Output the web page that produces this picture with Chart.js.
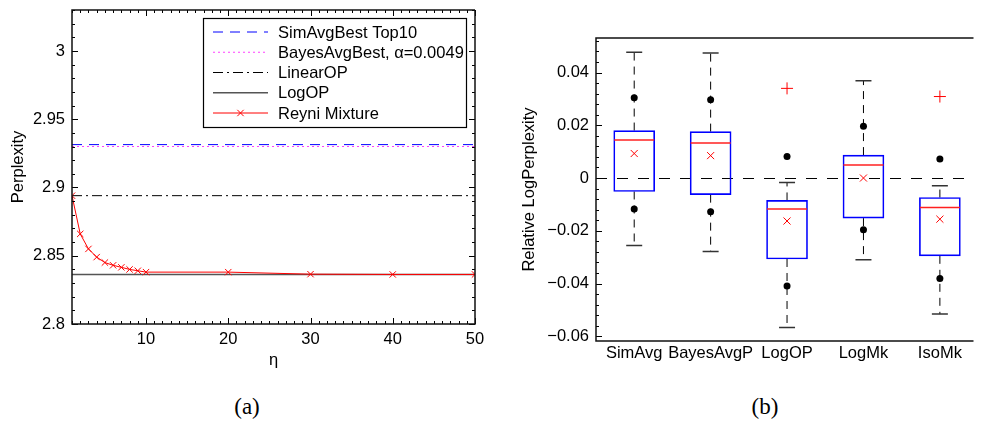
<!DOCTYPE html>
<html>
<head>
<meta charset="utf-8">
<script src="https://cdn.jsdelivr.net/npm/chart.js@4.4.1/dist/chart.umd.min.js"></script>
<style>
  body { margin: 0; background: #fff; width: 995px; height: 428px; overflow: hidden; position: relative; }
  canvas { position: absolute; top: 0; }
  #chartA { left: 0; }
  #chartB { left: 500px; }
  .cap { position: absolute; top: 394px; font-family: "Liberation Serif", "Times New Roman", serif; font-size: 23px; transform: translateX(-50%); }
</style>
</head>
<body>
<canvas id="chartA" width="495" height="380"></canvas>
<canvas id="chartB" width="495" height="380"></canvas>
<div class="cap" style="left:247px">(a)</div>
<div class="cap" style="left:765px">(b)</div>
<script>
Chart.defaults.font.family = '"Liberation Sans", Arial, sans-serif';
Chart.defaults.font.size = 16.5;
Chart.defaults.color = '#000';

// (a) perplexity vs eta
const etaValues = [1, 2, 3, 4, 5, 6, 7, 8, 9, 10, 20, 30, 40, 50];
const reyniPerplexity = [2.894, 2.866, 2.855, 2.849, 2.845, 2.843, 2.8415, 2.840, 2.839, 2.838, 2.838, 2.8365, 2.8363, 2.8363];
const simAvgBestTop10 = 2.9314;
const bayesAvgBest = 2.9300;
const linearOPValue = 2.894;
const logOPValue = 2.8362;
const etaTicks = [10, 20, 30, 40, 50];
const perplexityTicks = [2.8, 2.85, 2.9, 2.95, 3];

// (b) relative log perplexity box plots
const methods = ['SimAvg', 'BayesAvgP', 'LogOP', 'LogMk', 'IsoMk'];
const whiskerHigh = [0.0477, 0.0474, -0.0017, 0.0369, -0.0029];
const upperDot = [0.0304, 0.0297, 0.0082, 0.0196, 0.0072];
const q3 = [0.0180, 0.0176, -0.0085, 0.0087, -0.0074];
const medians = [0.0144, 0.0133, -0.0117, 0.0049, -0.0112];
const means = [0.0093, 0.0085, -0.0163, 0.0000, -0.0156];
const q1 = [-0.0051, -0.0063, -0.0307, -0.0152, -0.0295];
const lowerDot = [-0.0117, -0.0128, -0.0409, -0.0196, -0.0381];
const whiskerLow = [-0.0256, -0.0279, -0.0567, -0.0310, -0.0516];
const outlierMethod = [3, 5];
const outlierValue = [0.0340, 0.0309];
const relTicks = [-0.06, -0.04, -0.02, 0, 0.02, 0.04];

// inward matlab-style ticks + frame
const frameTicks = {
  id: 'frameTicks',
  afterDatasetsDraw(chart, args, o) {
    const { ctx, chartArea: a, scales: { x, y } } = chart;
    ctx.save();
    ctx.strokeStyle = '#000';
    ctx.lineWidth = 1;
    ctx.beginPath();
    const mark = (axis, v, len) => {
      if (axis === 'x') {
        const px = Math.round(x.getPixelForValue(v)) + 0.5;
        ctx.moveTo(px, a.bottom); ctx.lineTo(px, a.bottom - len);
        if (o.mirror) { ctx.moveTo(px, a.top); ctx.lineTo(px, a.top + len); }
      } else {
        const py = Math.round(y.getPixelForValue(v)) + 0.5;
        ctx.moveTo(a.left, py); ctx.lineTo(a.left + len, py);
        if (o.mirror) { ctx.moveTo(a.right, py); ctx.lineTo(a.right - len, py); }
      }
    };
    const minors = (axis, scale, step) => {
      for (let k = Math.ceil(scale.min / step - 1e-6); k * step <= scale.max + 1e-9; k++) mark(axis, k * step, 3);
    };
    if (o.xMinor) minors('x', x, o.xMinor);
    if (o.yMinor) minors('y', y, o.yMinor);
    if (o.xMajor) x.ticks.forEach(t => mark('x', t.value, 6));
    y.ticks.forEach(t => mark('y', t.value, 6));
    ctx.stroke();

    ctx.lineWidth = 1.5;
    ctx.strokeStyle = '#111';
    ctx.beginPath();
    ctx.moveTo(a.right, a.top);
    ctx.lineTo(a.left, a.top);
    ctx.lineTo(a.left, a.bottom);
    ctx.lineTo(a.right, a.bottom);
    if (o.mirror) ctx.lineTo(a.right, a.top);
    ctx.stroke();
    ctx.restore();
  }
};

const boxLegend = {
  id: 'boxLegend',
  afterDraw(chart, args, o) {
    if (!o.show) return;
    const ctx = chart.ctx;
    ctx.save();
    ctx.fillStyle = '#fff';
    ctx.fillRect(o.left, o.top, o.width, o.height);
    ctx.strokeStyle = '#000';
    ctx.lineWidth = 1.2;
    ctx.strokeRect(o.left + 0.5, o.top + 0.5, o.width, o.height);
    chart.data.datasets.forEach((ds, i) => {
      const yy = o.top + o.firstRow + i * o.rowGap;
      const x0 = o.left + 10, x1 = x0 + 55;
      ctx.strokeStyle = ds.borderColor;
      ctx.lineWidth = ds.borderWidth;
      ctx.setLineDash(ds.borderDash || []);
      ctx.beginPath(); ctx.moveTo(x0, yy); ctx.lineTo(x1, yy); ctx.stroke();
      ctx.setLineDash([]);
      if (ds.pointRadius > 0) {
        ctx.strokeStyle = ds.pointBorderColor || ds.borderColor;
        Chart.helpers.drawPoint(ctx, { pointStyle: ds.pointStyle, radius: ds.pointRadius, borderWidth: 1, rotation: 0 }, (x0 + x1) / 2, yy);
      }
      ctx.fillStyle = '#000';
      ctx.font = '16.5px "Liberation Sans", Arial, sans-serif';
      ctx.textBaseline = 'middle';
      ctx.fillText(ds.label, x1 + 10, yy + 1);
    });
    ctx.restore();
  }
};

const zeroLine = {
  id: 'zeroLine',
  beforeDatasetsDraw(chart, args, o) {
    if (!o.show) return;
    const { ctx, chartArea: a, scales: { y } } = chart;
    const py = Math.round(y.getPixelForValue(0)) + 0.5;
    ctx.save();
    ctx.strokeStyle = '#000';
    ctx.lineWidth = 1;
    ctx.setLineDash([11, 10]);
    ctx.beginPath(); ctx.moveTo(a.left, py); ctx.lineTo(a.right, py); ctx.stroke();
    ctx.restore();
  }
};

const noPad = s => { s.paddingTop = 0; s.paddingBottom = 0; s.paddingLeft = 0; s.paddingRight = 0; };

const flatLine = v => [{ x: etaValues[0], y: v }, { x: etaValues[etaValues.length - 1], y: v }];

new Chart(document.getElementById('chartA'), {
  type: 'scatter',
  data: {
    datasets: [
      { label: 'SimAvgBest Top10', data: flatLine(simAvgBestTop10), showLine: true, borderColor: '#0000ff', borderWidth: 1, borderDash: [10, 7], pointRadius: 0, order: 1 },
      { label: 'BayesAvgBest, \u03b1=0.0049', data: flatLine(bayesAvgBest), showLine: true, borderColor: '#ff40ff', borderWidth: 1.2, borderDash: [2, 3], pointRadius: 0, order: 1 },
      { label: 'LinearOP', data: flatLine(linearOPValue), showLine: true, borderColor: '#000', borderWidth: 1, borderDash: [10, 4, 2, 4], pointRadius: 0, order: 1 },
      { label: 'LogOP', data: flatLine(logOPValue), showLine: true, borderColor: '#555', borderWidth: 1.5, pointRadius: 0, order: 1 },
      { label: 'Reyni Mixture', data: etaValues.map((e, i) => ({ x: e, y: reyniPerplexity[i] })), showLine: true,
        borderColor: '#ff0000', borderWidth: 1, pointStyle: 'crossRot', pointRadius: 4.5, pointBorderColor: '#ff0000', pointBorderWidth: 1, order: 0 }
    ]
  },
  options: {
    responsive: false,
    animation: false,
    events: [],
    layout: { padding: { top: 10, right: 20, left: 0, bottom: 0 } },
    plugins: {
      legend: { display: false },
      tooltip: { enabled: false },
      frameTicks: { xMinor: 1, yMinor: 0.01, xMajor: true, mirror: true },
      boxLegend: { show: true, left: 203, top: 18, width: 263, height: 109, firstRow: 14, rowGap: 20.25 },
      zeroLine: { show: false }
    },
    scales: {
      x: {
        type: 'linear', min: 1, max: 50,
        grid: { display: false, drawTicks: false }, border: { display: false },
        ticks: { padding: 6, maxRotation: 0 },
        afterBuildTicks: s => { s.ticks = etaTicks.map(v => ({ value: v })); },
        afterFit: s => { s.height = 56; noPad(s); },
        title: { display: true, text: '\u03b7', padding: { top: 0, bottom: 10 } }
      },
      y: {
        type: 'linear', min: 2.8, max: 3.03,
        grid: { display: false, drawTicks: false }, border: { display: false },
        ticks: { padding: 7, callback: v => String(v) },
        afterBuildTicks: s => { s.ticks = perplexityTicks.map(v => ({ value: v })); },
        afterFit: s => { s.width = 72; noPad(s); },
        title: { display: true, text: 'Perplexity', padding: { top: 9, bottom: 0 } }
      }
    }
  },
  plugins: [frameTicks, boxLegend, zeroLine]
});

const whiskerPath = methods.flatMap((m, i) => [
  { x: i + 1, y: q3[i] }, { x: i + 1, y: whiskerHigh[i] }, { x: i + 1, y: null },
  { x: i + 1, y: q1[i] }, { x: i + 1, y: whiskerLow[i] }, { x: i + 1, y: null }
]);
const capPoints = methods.flatMap((m, i) => [{ x: i + 1, y: whiskerHigh[i] }, { x: i + 1, y: whiskerLow[i] }]);
const dotPoints = methods.flatMap((m, i) => [{ x: i + 1, y: upperDot[i] }, { x: i + 1, y: lowerDot[i] }]);

new Chart(document.getElementById('chartB'), {
  type: 'bar',
  data: {
    datasets: [
      { type: 'line', label: 'whiskers', data: whiskerPath, borderColor: '#000', borderWidth: 1, borderDash: [8, 6], pointRadius: 0, spanGaps: false, order: 5 },
      { type: 'bar', label: 'box', data: methods.map((m, i) => ({ x: i + 1, y: [q1[i], q3[i]] })), backgroundColor: 'rgba(0,0,0,0)',
        borderColor: '#0000ff', borderWidth: 1, borderSkipped: false, barThickness: 41, order: 4 },
      { type: 'scatter', label: 'caps', data: capPoints, pointStyle: 'line', pointRadius: 8, pointBorderColor: '#333', pointBorderWidth: 1.5, order: 3 },
      { type: 'scatter', label: 'median', data: methods.map((m, i) => ({ x: i + 1, y: medians[i] })), pointStyle: 'line', pointRadius: 20, pointBorderColor: '#ff2020', pointBorderWidth: 1.5, order: 2 },
      { type: 'scatter', label: 'mean', data: methods.map((m, i) => ({ x: i + 1, y: means[i] })), pointStyle: 'crossRot', pointRadius: 5, pointBorderColor: '#ff0000', pointBorderWidth: 1, order: 1 },
      { type: 'scatter', label: 'dots', data: dotPoints, pointStyle: 'circle', pointRadius: 3.5, pointBackgroundColor: '#000', pointBorderColor: '#000', pointBorderWidth: 0, order: 1 },
      { type: 'scatter', label: 'outliers', data: outlierMethod.map((m, i) => ({ x: m, y: outlierValue[i] })), pointStyle: 'cross', pointRadius: 6, pointBorderColor: '#ff0000', pointBorderWidth: 1, order: 0 }
    ]
  },
  options: {
    responsive: false,
    animation: false,
    events: [],
    layout: { padding: { top: 38, right: 0, left: 0, bottom: 0 } },
    plugins: {
      legend: { display: false },
      tooltip: { enabled: false },
      frameTicks: { yMinor: 0.004, xMajor: false, mirror: false },
      boxLegend: { show: false },
      zeroLine: { show: true }
    },
    scales: {
      x: {
        type: 'linear', min: 0.5, max: 5.44, offset: false,
        grid: { display: false, drawTicks: false }, border: { display: false },
        ticks: { padding: 3, autoSkip: false, maxRotation: 0, callback: v => methods[v - 1] },
        afterBuildTicks: s => { s.ticks = methods.map((m, i) => ({ value: i + 1 })); },
        afterFit: s => { s.height = 39; noPad(s); }
      },
      y: {
        type: 'linear', min: -0.0618, max: 0.0531,
        grid: { display: false, drawTicks: false }, border: { display: false },
        ticks: { padding: 7, callback: v => v === 0 ? '0' : (v < 0 ? '\u2212' : '') + Math.abs(v) },
        afterBuildTicks: s => { s.ticks = relTicks.map(v => ({ value: v })); },
        afterFit: s => { s.width = 96; noPad(s); },
        title: { display: true, text: 'Relative LogPerplexity', padding: { top: 20, bottom: 0 } }
      }
    }
  },
  plugins: [frameTicks, boxLegend, zeroLine]
});
</script>
</body>
</html>
